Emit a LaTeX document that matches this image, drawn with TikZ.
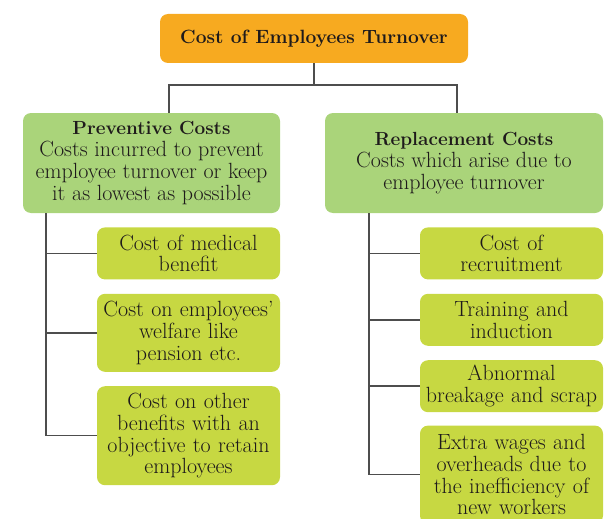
\documentclass[tikz,border=0pt]{standalone}
\usepackage{tikz}
\usetikzlibrary{positioning}
\definecolor{cOrange}{RGB}{247,170,32}
\definecolor{cHead}{RGB}{170,212,122}
\definecolor{cLeaf}{RGB}{199,216,66}
\definecolor{cLine}{RGB}{77,77,77}
\definecolor{cText}{RGB}{30,26,27}
\newcommand{\hdrtext}[1]{{\fontsize{19}{21.8}\selectfont\bfseries #1}}
\tikzset{
	titlebox/.style={rectangle, rounded corners=8pt, minimum width=308pt, minimum height=49pt, align=center, fill=cOrange, font=\bfseries\fontsize{19.2}{21.5}\selectfont},
	head/.style    ={rectangle, rounded corners=8pt, minimum height=100pt, align=center, fill=cHead},
	leaf/.style    ={rectangle, rounded corners=8pt, minimum width=183pt, text width=177pt, minimum height=52pt, inner xsep=3pt, inner ysep=2pt, align=center, fill=cLeaf},
	link/.style    ={draw=cLine, line width=1.5pt},
}
\begin{document}
\begin{tikzpicture}[x=1pt, y=1pt, font=\fontsize{22}{21.8}\selectfont, text=cText, node distance=14pt]
		\clip (0,0) rectangle (610,-519);
		\node[titlebox] (top) at (314,-38.5) {Cost of Employees Turnover};
		\node[head, minimum width=257pt] (prev) at (151.5,-163) {\hdrtext{Preventive Costs}\\ Costs incurred to prevent\\ employee turnover or keep\\ it as lowest as possible};
		\node[head, minimum width=278pt] (repl) at (464,-163) {\hdrtext{Replacement Costs}\\ Costs which arise due to\\ employee turnover};
		% preventive side
		\node[leaf, below left=14pt and 0pt of prev.south east] (p1) {Cost of medical\\ benefit};
		\node[leaf, below=of p1, minimum height=78pt] (p2) {Cost on employees'\\ welfare like\\ pension etc.};
		\node[leaf, below=of p2, minimum height=99pt] (p3) {Cost on other\\ benefits with an\\ objective to retain\\ employees};
		% replacement side
		\node[leaf, below left=14pt and 0pt of repl.south east] (r1) {Cost of\\ recruitment};
		\node[leaf, below=of r1] (r2) {Training and\\ induction};
		\node[leaf, below=of r2] (r3) {Abnormal\\ breakage and scrap};
		\node[leaf, below=13pt of r3, minimum height=98pt] (r4) {Extra wages and\\ overheads due to\\ the inefficiency of\\ new workers};
		% connectors
		\draw[link] (top.south) -- ++(0,-22) coordinate (bus);
		\draw[link] ([xshift=17.5pt]prev.north) |- (bus) -| ([xshift=-7pt]repl.north);
		\coordinate (ptrunk) at ([xshift=23pt]prev.south west);
		\coordinate (rtrunk) at ([xshift=44pt]repl.south west);
		\draw[link] (ptrunk) |- (p3.west);
		\foreach \n in {p1,p2} \draw[link] (ptrunk |- \n.west) -- (\n.west);
		\draw[link] (rtrunk) |- (r4.west);
		\foreach \n in {r1,r2,r3} \draw[link] (rtrunk |- \n.west) -- (\n.west);
\end{tikzpicture}
\end{document}
